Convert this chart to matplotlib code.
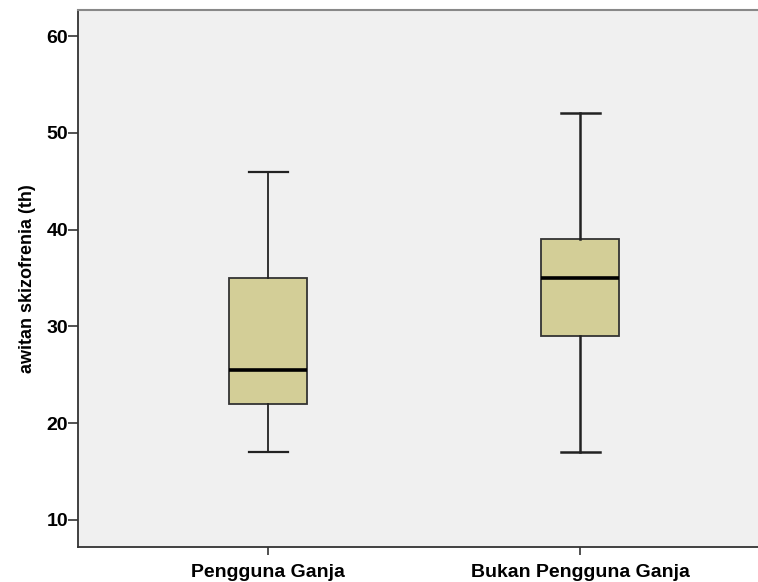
import matplotlib.pyplot as plt

groups = ["Pengguna Ganja", "Bukan Pengguna Ganja"]
whislo = [17, 17]
q1 = [22, 29]
med = [25.5, 35]
q3 = [35, 39]
whishi = [46, 52]
yticks = [10, 20, 30, 40, 50, 60]

plt.rcParams['font.family'] = ['Liberation Sans', 'DejaVu Sans']

fig = plt.figure(figsize=(7.58, 5.82), dpi=100)
ax = fig.add_axes([0.103, 0.060, 0.897, 0.923])
ax.set_facecolor('#f0f0f0')

stats = []
for i, g in enumerate(groups):
    stats.append(dict(label=g, whislo=whislo[i], q1=q1[i], med=med[i],
                      q3=q3[i], whishi=whishi[i], fliers=[]))

bp = ax.bxp(stats, positions=[1, 2], widths=0.25, patch_artist=True,
            showfliers=False,
            boxprops=dict(facecolor='#d3ce97', edgecolor='#333333', linewidth=1.3),
            medianprops=dict(color='black', linewidth=2.6),
            whiskerprops=dict(color='#222222', linewidth=1.3),
            capprops=dict(color='#222222', linewidth=1.6),
            capwidths=0.125)
# second group drawn a bit heavier, as in the source
for ln in bp['whiskers'][2:] + bp['caps'][2:]:
    ln.set_linewidth(1.8)

ax.set_xlim(0.391, 2.57)
ax.set_ylim(7.2, 62.7)
ax.set_yticks(yticks)
ax.set_xticks([1, 2])
ax.set_xticklabels(groups)
ax.tick_params(axis='both', labelsize=14, color='#333333', width=1.2)
for lab in ax.get_xticklabels() + ax.get_yticklabels():
    lab.set_fontweight('bold')
ax.tick_params(axis='y', pad=0, length=7)
ax.tick_params(axis='x', pad=6, length=6)
ax.set_ylabel("awitan skizofrenia (th)", fontsize=13, fontweight='bold', labelpad=8)

ax.spines['right'].set_visible(False)
ax.spines['top'].set_color('#888888')
ax.spines['top'].set_linewidth(1.5)
ax.spines['left'].set_color('#333333')
ax.spines['left'].set_linewidth(1.3)
ax.spines['bottom'].set_color('#333333')
ax.spines['bottom'].set_linewidth(1.3)

fig.savefig("out.png", dpi=100)
